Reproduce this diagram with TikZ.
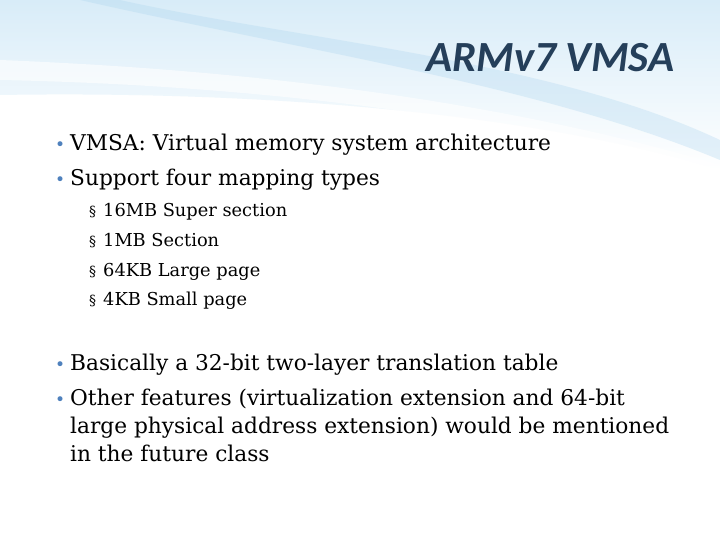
\documentclass[tikz,border=0pt]{standalone}
\usepackage{fontspec}
\setmainfont{DejaVu Serif}
\newfontfamily\titlefont{Carlito}
\definecolor{titleblue}{HTML}{253F5A}
\definecolor{swoosh}{HTML}{D8ECF8}
\definecolor{swooshd}{HTML}{A9D3EE}
\definecolor{bulletc}{HTML}{4F81BD}
\begin{document}
\begin{tikzpicture}[x=1pt,y=-1pt,
  body/.style={anchor=base west,inner sep=0pt,font=\fontsize{21.7}{28}\selectfont},
  sub/.style={anchor=base west,inner sep=0pt,font=\fontsize{17.8}{22}\selectfont},
  bul/.style={anchor=base west,inner sep=0pt,text=bulletc,font=\fontsize{17}{22}\selectfont},
  sbul/.style={anchor=base west,inner sep=0pt,font=\fontsize{14}{22}\selectfont}]
\useasboundingbox (0,0) rectangle (720,540);
\fill[white] (0,0) rectangle (720,540);
% swoosh background
\shade[top color=swoosh,bottom color=white] (0,0) -- (720,0) -- (720,170) .. controls (560,120) and (300,90) .. (0,95) -- cycle;
\fill[swooshd,opacity=0.3] (120,0) .. controls (300,40) and (550,60) .. (720,140) -- (720,160) .. controls (540,85) and (300,50) .. (80,0) -- cycle;
\fill[white,opacity=0.6] (0,60) .. controls (250,70) and (500,100) .. (720,165) -- (720,175) .. controls (500,115) and (250,85) .. (0,80) -- cycle;
\node[anchor=base east,inner sep=0pt,text=titleblue,font=\titlefont\bfseries\itshape\fontsize{43}{46}\selectfont] (title) at (675,72) {ARMv7 VMSA};
\node[bul] (b1) at (55,151) {•};
\node[body] (t1) at (70,151) {VMSA: Virtual memory system architecture};
\node[bul] (b2) at (55,186) {•};
\node[body] (t2) at (70,186) {Support four mapping types};
\node[sbul] (s1) at (89,217) {§};
\node[sub] (u1) at (103,217) {16MB Super section};
\node[sbul] (s2) at (89,246) {§};
\node[sub] (u2) at (103,246) {1MB Section};
\node[sbul] (s3) at (89,276) {§};
\node[sub] (u3) at (103,276) {64KB Large page};
\node[sbul] (s4) at (89,305) {§};
\node[sub] (u4) at (103,305) {4KB Small page};
\node[bul] (b3) at (55,370) {•};
\node[body] (t3) at (70,370) {Basically a 32-bit two-layer translation table};
\node[bul] (b4) at (55,405) {•};
\node[body] (t4) at (70,405) {Other features (virtualization extension and 64-bit};
\node[body] (t5) at (70,433) {large physical address extension) would be mentioned};
\node[body] (t6) at (70,461) {in the future class};
\end{tikzpicture}
\end{document}
